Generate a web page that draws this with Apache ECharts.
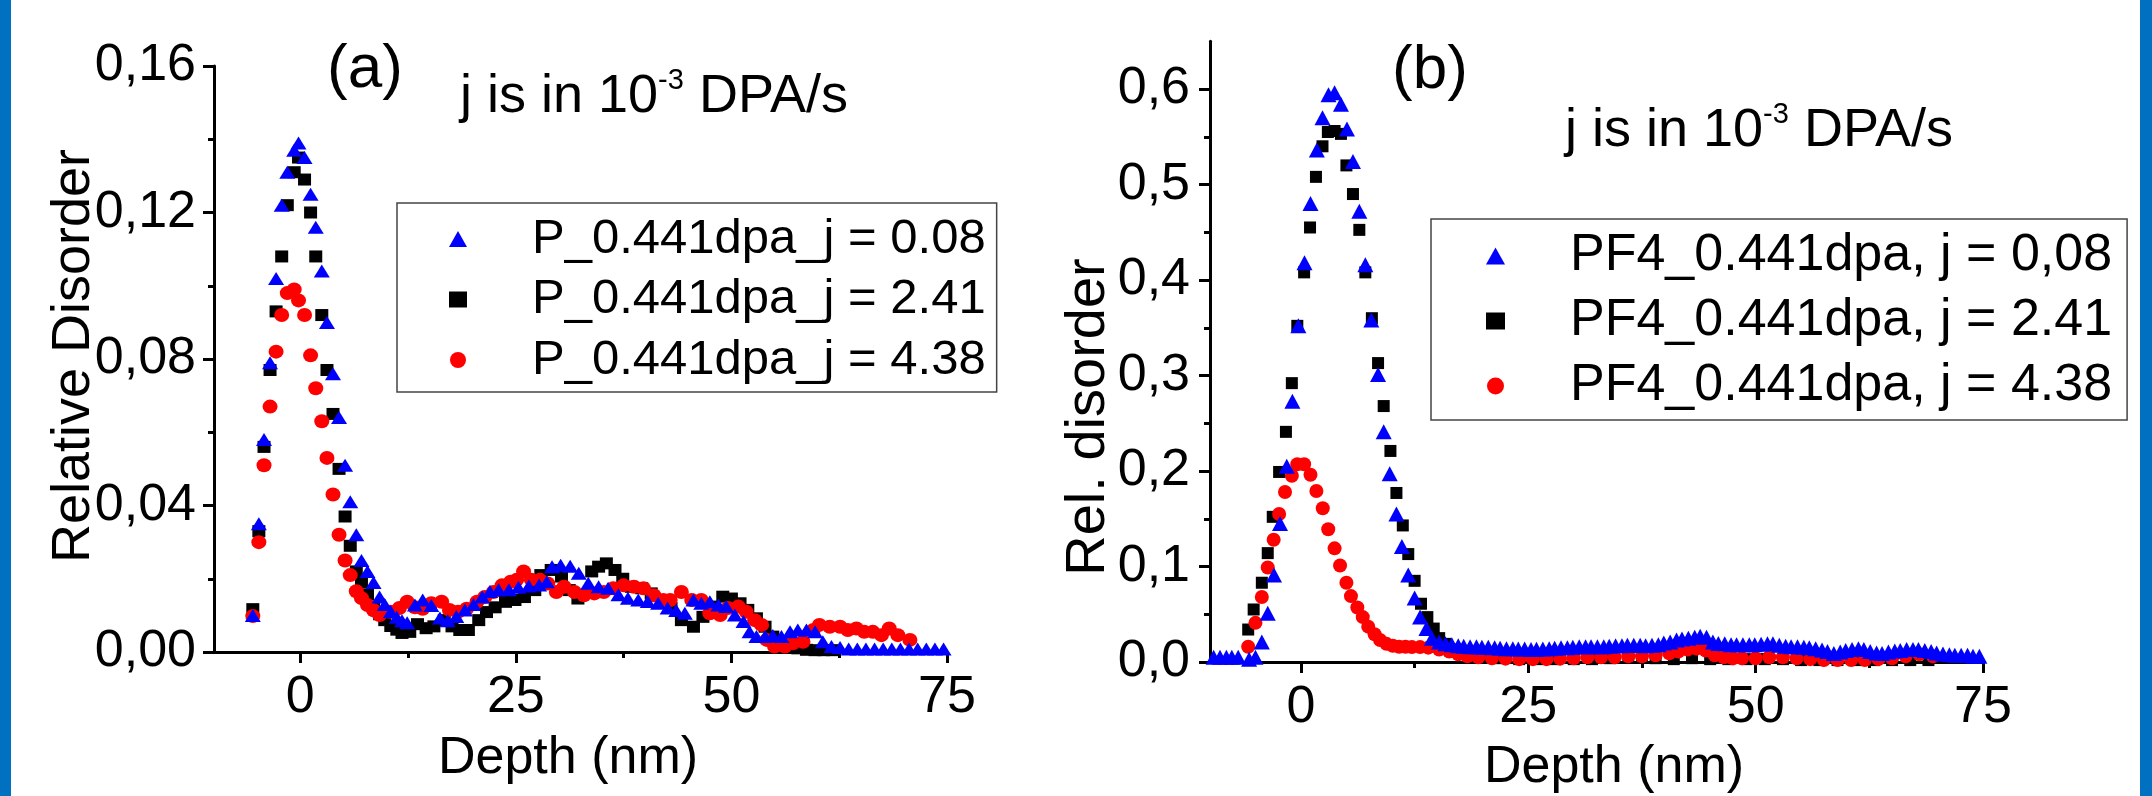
<!DOCTYPE html>
<html><head><meta charset="utf-8">
<script src="https://cdn.jsdelivr.net/npm/echarts@6/dist/echarts.min.js"></script>
<style>html,body{margin:0;padding:0;background:#fff}#c{width:2152px;height:796px}</style>
</head><body><div id="c"></div>
<script>
// ---------- Panel (a) : Relative Disorder vs Depth ----------
const aNames = ['P_0.441dpa_j = 0.08', 'P_0.441dpa_j = 2.41', 'P_0.441dpa_j = 4.38'];
const aJ008 = [[-5.5,0.010],[-4.8,0.035],[-4.2,0.058],[-3.5,0.079],[-2.8,0.102],[-2.15,0.122],[-1.5,0.131],[-0.7,0.137],[-0.2,0.139],[0.5,0.135],[1.2,0.125],[1.8,0.116],[2.5,0.104],[3.1,0.090],[3.8,0.076],[4.5,0.064],[5.2,0.051],[5.8,0.041],[6.5,0.032],[7.1,0.025],[7.8,0.022],[8.5,0.019],[9.2,0.015],[9.8,0.013],[10.5,0.011],[11.2,0.0095],[11.8,0.0085],[12.4,0.008],[13.3,0.0128],[14.2,0.0142],[15.2,0.0127],[16.2,0.0093],[17.1,0.0085],[18.1,0.0097],[19.1,0.0115],[20.1,0.013],[21.1,0.015],[22.0,0.0165],[23.0,0.017],[24.2,0.017],[25.3,0.0177],[26.5,0.018],[27.7,0.0183],[28.6,0.0192],[29.2,0.0233],[30.2,0.0237],[31.3,0.0234],[32.3,0.0215],[33.4,0.0188],[34.6,0.0178],[35.7,0.0174],[36.9,0.0156],[38.0,0.0147],[39.2,0.0142],[40.3,0.0138],[41.5,0.0133],[42.6,0.012],[43.6,0.0113],[44.6,0.0106],[45.6,0.0142],[46.5,0.0133],[47.5,0.0137],[48.5,0.0128],[49.4,0.0124],[50.4,0.0101],[51.4,0.0083],[52.1,0.0055],[52.9,0.0042],[53.9,0.0042],[54.8,0.0045],[55.8,0.0042],[56.8,0.0055],[57.7,0.006],[58.7,0.006],[59.7,0.0055],[60.6,0.0028],[61.6,0.0015],[62.6,0.0012],[63.6,0.0008],[64.6,0.0008],[65.6,0.0008],[66.6,0.0008],[67.6,0.0008],[68.6,0.0008],[69.6,0.0008],[70.6,0.0008],[71.6,0.0008],[72.6,0.0008],[73.6,0.0008],[74.6,0.0008]];
const aJ241 = [[-5.5,0.0117],[-4.8,0.033],[-4.2,0.056],[-3.5,0.077],[-2.8,0.093],[-2.15,0.108],[-1.5,0.122],[-0.7,0.131],[-0.2,0.135],[0.5,0.129],[1.2,0.120],[1.8,0.108],[2.5,0.092],[3.1,0.077],[3.8,0.065],[4.5,0.050],[5.2,0.037],[5.8,0.029],[6.5,0.022],[7.1,0.019],[7.8,0.0157],[8.5,0.0123],[9.2,0.0103],[9.8,0.0087],[10.5,0.0071],[11.2,0.0061],[11.8,0.0052],[12.7,0.0055],[13.6,0.0076],[14.6,0.0065],[15.5,0.007],[16.7,0.0087],[17.6,0.007],[18.5,0.006],[19.5,0.006],[20.7,0.0087],[21.6,0.0109],[22.6,0.0122],[23.8,0.0137],[24.9,0.0142],[26.0,0.015],[27.2,0.0169],[27.9,0.021],[29.1,0.0224],[30.3,0.0206],[31.2,0.0169],[32.2,0.0146],[33.8,0.022],[34.6,0.0233],[35.5,0.0242],[36.5,0.0224],[37.4,0.020],[38.4,0.0178],[39.6,0.0174],[40.7,0.016],[41.9,0.0142],[43.0,0.012],[44.2,0.0087],[45.6,0.0069],[46.7,0.0096],[47.9,0.0124],[49.0,0.0151],[50.0,0.0146],[51.0,0.0133],[51.9,0.0115],[52.9,0.0092],[53.9,0.0069],[54.8,0.0042],[55.8,0.0024],[56.8,0.0015],[57.7,0.001],[58.7,0.0006],[59.7,0.0005],[60.7,0.0005],[61.7,0.0005]];
const aJ438 = [[-5.5,0.0098],[-4.8,0.030],[-4.2,0.051],[-3.5,0.067],[-2.8,0.082],[-2.15,0.092],[-1.5,0.098],[-0.7,0.099],[-0.2,0.096],[0.5,0.092],[1.2,0.081],[1.8,0.072],[2.5,0.063],[3.1,0.053],[3.8,0.043],[4.5,0.032],[5.2,0.025],[5.8,0.021],[6.5,0.0166],[7.1,0.0147],[7.8,0.0128],[8.5,0.0114],[9.2,0.0101],[10.4,0.011],[11.5,0.012],[12.4,0.0137],[13.3,0.0122],[14.2,0.0118],[15.2,0.0133],[16.4,0.0137],[17.3,0.0115],[18.3,0.011],[19.3,0.0118],[20.5,0.0137],[21.4,0.015],[22.4,0.0164],[23.4,0.0182],[24.4,0.0192],[25.1,0.0197],[25.9,0.022],[26.8,0.0197],[27.8,0.0197],[28.7,0.0187],[29.7,0.0164],[30.6,0.0178],[31.8,0.0164],[32.9,0.0155],[34.1,0.016],[35.2,0.0164],[36.3,0.0174],[37.5,0.0182],[38.7,0.0178],[39.8,0.0174],[41.0,0.0155],[42.1,0.0142],[42.9,0.0142],[44.2,0.0164],[45.4,0.0142],[46.5,0.0142],[47.5,0.0106],[48.7,0.0101],[49.6,0.012],[50.8,0.0124],[51.7,0.011],[52.7,0.0087],[53.5,0.0074],[54.1,0.0033],[55.0,0.0015],[56.2,0.0015],[57.1,0.0024],[58.3,0.0028],[59.5,0.006],[60.2,0.0074],[61.4,0.0069],[62.6,0.0069],[63.5,0.006],[64.5,0.0064],[65.4,0.0055],[66.4,0.0055],[67.4,0.0046],[68.3,0.0064],[69.3,0.0046],[70.7,0.0033]];

// ---------- Panel (b) : Rel. disorder vs Depth ----------
const bNames = ['PF4_0.441dpa, j = 0,08', 'PF4_0.441dpa, j = 2.41', 'PF4_0.441dpa, j = 4.38'];
const bJ008 = [[-9.6,0.005],[-8.9,0.005],[-8.2,0.005],[-7.6,0.005],[-6.9,0.005],[-5.7,0.003],[-5.0,0.005],[-4.3,0.021],[-3.65,0.051],[-2.96,0.091],[-2.3,0.145],[-1.56,0.205],[-0.94,0.273],[-0.28,0.352],[0.39,0.418],[1.05,0.48],[1.75,0.536],[2.37,0.57],[3.03,0.594],[3.7,0.596],[4.4,0.584],[5.06,0.558],[5.72,0.524],[6.42,0.472],[7.08,0.416],[7.74,0.358],[8.48,0.301],[9.1,0.241],[9.76,0.197],[10.5,0.155],[11.1,0.121],[11.8,0.091],[12.5,0.067],[13.1,0.047],[13.8,0.035],[14.4,0.025],
  [15.2,0.021],[15.9,0.019],[16.6,0.018],[17.3,0.017],[17.9,0.0165],[18.6,0.016],[19.3,0.016],[19.9,0.0155],[20.6,0.0155],[21.3,0.015],[21.9,0.0145],[22.6,0.014],[23.3,0.014],[23.9,0.0135],[24.6,0.0135],[25.3,0.013],[25.9,0.0133],[26.6,0.0137],[27.3,0.014],[27.9,0.0145],[28.6,0.015],[29.3,0.015],[29.9,0.0155],[30.6,0.016],[31.3,0.016],[31.9,0.016],[32.6,0.016],[33.3,0.016],[33.9,0.0165],[34.6,0.017],[35.3,0.017],[35.9,0.0175],[36.6,0.0175],[37.3,0.0175],[37.9,0.017],[38.6,0.0175],[39.3,0.018],[39.9,0.020],[40.6,0.021],[41.3,0.023],[41.9,0.024],[42.6,0.025],[43.3,0.026],[43.9,0.027],[44.6,0.026],[45.3,0.021],[45.9,0.0195],[46.6,0.019],[47.3,0.018],[47.9,0.018],[48.6,0.018],[49.3,0.018],[49.9,0.018],[50.6,0.0185],[51.3,0.019],[51.9,0.019],[52.6,0.0175],[53.3,0.0165],[53.9,0.016],[54.6,0.016],[55.3,0.0155],[55.9,0.015],[56.6,0.014],[57.3,0.0125],[57.9,0.011],[58.6,0.009],[59.3,0.0105],[59.9,0.012],[60.6,0.013],[61.3,0.014],[61.9,0.013],[62.6,0.011],[63.3,0.0095],[63.9,0.009],[64.6,0.0105],[65.3,0.0115],[65.9,0.012],[66.6,0.013],[67.3,0.013],[67.9,0.013],[68.6,0.012],[69.3,0.011],[69.9,0.0095],[70.6,0.0085],[71.3,0.0075],[71.9,0.007],[72.6,0.007],[73.3,0.007],[73.9,0.006],[74.6,0.006]];
const bJ241 = [[-5.8,0.034],[-5.2,0.055],[-4.3,0.083],[-3.65,0.114],[-3.1,0.152],[-2.4,0.199],[-1.65,0.241],[-1.0,0.292],[-0.4,0.352],[0.35,0.408],[1.0,0.455],[1.65,0.508],[2.37,0.54],[2.96,0.555],[3.7,0.556],[4.4,0.553],[5.0,0.52],[5.72,0.49],[6.42,0.4525],[7.08,0.408],[7.8,0.36],[8.48,0.313],[9.1,0.268],[9.84,0.221],[10.5,0.177],[11.2,0.143],[11.8,0.113],[12.5,0.085],[13.2,0.061],[13.9,0.047],[14.6,0.035],[15.2,0.025],[15.9,0.019],[16.7,0.013],[17.5,0.009],[18.5,0.007],[20.0,0.005],[22.0,0.004],[24.0,0.003],[26.0,0.003],[28.0,0.003],[30.0,0.003],[32.0,0.003],[34.0,0.004],[36.0,0.005],[37.5,0.006],[39.0,0.004],[41.0,0.003],[43.0,0.004],[45.0,0.003],[47.0,0.003],[49.0,0.003],[51.0,0.003],[53.0,0.003],[55.0,0.002],[57.0,0.002],[59.0,0.002],[61.0,0.002],[63.0,0.002],[65.0,0.002],[67.0,0.002],[69.0,0.002]];
const bJ438 = [[-5.8,0.016],[-5.0,0.041],[-4.3,0.068],[-3.65,0.099],[-3.0,0.128],[-2.4,0.155],[-1.75,0.178],[-1.0,0.195],[-0.4,0.207],[0.35,0.207],[1.05,0.196],[1.7,0.179],[2.4,0.161],[3.0,0.139],[3.7,0.119],[4.3,0.101],[5.0,0.083],[5.5,0.069],[6.2,0.057],[6.8,0.047],[7.4,0.037],[8.1,0.029],[8.7,0.023],[9.4,0.019],[10.1,0.017],[10.8,0.016],[11.5,0.016],[12.2,0.0156],[13.1,0.0156],[14.0,0.015],[15.2,0.013],[16.3,0.011],[17.3,0.008],[18.3,0.006],[19.5,0.005],[21.0,0.004],[22.5,0.0035],[24.0,0.003],[25.5,0.003],[27.0,0.003],[28.5,0.0035],[30.0,0.004],[31.5,0.005],[33.0,0.005],[34.5,0.005],[36.0,0.006],[37.5,0.006],[39.0,0.007],[40.5,0.009],[41.5,0.011],[42.5,0.013],[43.5,0.014],[44.5,0.012],[45.5,0.007],[46.5,0.005],[47.5,0.004],[48.5,0.004],[50.0,0.004],[51.5,0.005],[53.0,0.005],[54.5,0.004],[56.0,0.003],[57.5,0.002],[59.0,0.002],[60.5,0.002],[62.0,0.002],[63.5,0.003],[65.0,0.004],[66.5,0.006],[68.0,0.008],[69.5,0.006]];

// ---------- Tick labels ----------
const xMajor = [0, 25, 50, 75];
const xMinor = [12.5, 37.5, 62.5];
const aYMajor = [0, 0.04, 0.08, 0.12, 0.16];
const bYMajor = [0, 0.1, 0.2, 0.3, 0.4, 0.5, 0.6];
const bYMinor = [0.05, 0.15, 0.25, 0.35, 0.45, 0.55];

const FONT = '"Liberation Sans", Arial, Helvetica, sans-serif';
const BLUE = '#0000FF', BLACK = '#000000', RED = '#FF0000';
const TICKFS = 52;

function xAxes(gi) {
  return [
    { gridIndex: gi, type: 'value', min: -10, max: 75, position: 'bottom',
      axisLine: { show: true, onZero: false, lineStyle: { color: '#000', width: 3 } },
      axisTick: { show: true, customValues: xMajor, length: 11, lineStyle: { color: '#000', width: 3 } },
      axisLabel: { show: true, customValues: xMajor, margin: 20, fontSize: TICKFS, color: '#000', fontFamily: FONT },
      splitLine: { show: false } },
    { gridIndex: gi, type: 'value', min: -10, max: 75, position: 'bottom',
      axisLine: { show: false, onZero: false },
      axisTick: { show: true, customValues: xMinor, length: 6, lineStyle: { color: '#000', width: 3 } },
      axisLabel: { show: false }, splitLine: { show: false } }
  ];
}

const option = {
  animation: false,
  backgroundColor: '#ffffff',
  grid: [
    { left: 214, top: 66, width: 733, height: 586, containLabel: false },
    { left: 1210, top: 41.25, width: 773, height: 620.75, containLabel: false }
  ],
  xAxis: [...xAxes(0), ...xAxes(1)],
  yAxis: [
    { gridIndex: 0, type: 'value', min: 0, max: 0.16, interval: 0.04, position: 'left',
      axisLine: { show: true, onZero: false, lineStyle: { color: '#000', width: 3 } },
      axisTick: { show: true, length: 11, lineStyle: { color: '#000', width: 3 } },
      minorTick: { show: true, splitNumber: 2, length: 6, lineStyle: { color: '#000', width: 3 } },
      axisLabel: { margin: 18, fontSize: TICKFS, color: '#000', fontFamily: FONT,
        formatter: v => v.toFixed(2).replace('.', ',') },
      splitLine: { show: false }, minorSplitLine: { show: false } },
    { gridIndex: 1, type: 'value', min: 0, max: 0.65, position: 'left',
      axisLine: { show: true, onZero: false, lineStyle: { color: '#000', width: 3 } },
      axisTick: { show: true, customValues: bYMajor, length: 11, lineStyle: { color: '#000', width: 3 } },
      axisLabel: { customValues: bYMajor, margin: 20, fontSize: TICKFS, color: '#000', fontFamily: FONT,
        formatter: v => v.toFixed(1).replace('.', ',') },
      splitLine: { show: false } },
    { gridIndex: 1, type: 'value', min: 0, max: 0.65, position: 'left',
      axisLine: { show: false, onZero: false },
      axisTick: { show: true, customValues: bYMinor, length: 6, lineStyle: { color: '#000', width: 3 } },
      axisLabel: { show: false }, splitLine: { show: false } }
  ],
  legend: [
    { orient: 'vertical', left: 397, top: 203, selectedMode: false,
      data: [{ name: aNames[0], icon: 'triangle' }, { name: aNames[1], icon: 'rect' }, { name: aNames[2], icon: 'circle' }],
      itemWidth: 18, itemHeight: 16, itemGap: 11.5, symbolKeepAspect: true,
      padding: [11.5, 11, 7.5, 52],
      borderColor: '#444', borderWidth: 1.5, backgroundColor: '#fff',
      textStyle: { fontSize: 49, lineHeight: 49, color: '#000', fontFamily: FONT, padding: [0, 0, 0, 60] } },
    { orient: 'vertical', left: 1431, top: 219, selectedMode: false,
      data: [{ name: bNames[0], icon: 'triangle' }, { name: bNames[1], icon: 'rect' }, { name: bNames[2], icon: 'circle' }],
      itemWidth: 19, itemHeight: 17, itemGap: 13, symbolKeepAspect: true,
      padding: [11, 15, 8, 55],
      borderColor: '#444', borderWidth: 1.5, backgroundColor: '#fff',
      textStyle: { fontSize: 52, lineHeight: 52, color: '#000', fontFamily: FONT, padding: [0, 0, 0, 60] } }
  ],
  series: [
    { name: aNames[1], type: 'scatter', xAxisIndex: 0, yAxisIndex: 0, symbol: 'rect', symbolSize: [13, 12], itemStyle: { color: BLACK, opacity: 1 }, data: aJ241, z: 2 },
    { name: aNames[2], type: 'scatter', xAxisIndex: 0, yAxisIndex: 0, symbol: 'circle', symbolSize: [15, 14], itemStyle: { color: RED, opacity: 1 }, data: aJ438, z: 3 },
    { name: aNames[0], type: 'scatter', xAxisIndex: 0, yAxisIndex: 0, symbol: 'triangle', symbolSize: [16, 13], itemStyle: { color: BLUE, opacity: 1 }, data: aJ008, z: 4 },
    { name: bNames[1], type: 'scatter', xAxisIndex: 2, yAxisIndex: 1, symbol: 'rect', symbolSize: [12, 12], itemStyle: { color: BLACK, opacity: 1 }, data: bJ241, z: 2 },
    { name: bNames[2], type: 'scatter', xAxisIndex: 2, yAxisIndex: 1, symbol: 'circle', symbolSize: [14, 14], itemStyle: { color: RED, opacity: 1 }, data: bJ438, z: 3 },
    { name: bNames[0], type: 'scatter', xAxisIndex: 2, yAxisIndex: 1, symbol: 'triangle', symbolSize: [16, 15], itemStyle: { color: BLUE, opacity: 1 }, data: bJ008, z: 4 }
  ],
  graphic: [
    { type: 'rect', left: 0, top: 0, shape: { width: 11, height: 796 }, style: { fill: '#0070C0' }, silent: true },
    { type: 'rect', left: 2140, top: 0, shape: { width: 12, height: 796 }, style: { fill: '#0070C0' }, silent: true },
    { type: 'text', x: 365, y: 70, style: { text: '(a)', font: '62px ' + FONT, fill: '#000', align: 'center', verticalAlign: 'middle' } },
    { type: 'text', x: 1430, y: 71, style: { text: '(b)', font: '62px ' + FONT, fill: '#000', align: 'center', verticalAlign: 'middle' } },
    { type: 'text', x: 460, y: 97, style: { text: 'j is in 10{s|-3} DPA/s', font: '54px ' + FONT, lineHeight: 62, fill: '#000', align: 'left', verticalAlign: 'middle',
        rich: { s: { fontSize: 29, fontFamily: FONT, lineHeight: 29, verticalAlign: 'top', fill: '#000' } } } },
    { type: 'text', x: 1565, y: 131, style: { text: 'j is in 10{s|-3} DPA/s', font: '54px ' + FONT, lineHeight: 62, fill: '#000', align: 'left', verticalAlign: 'middle',
        rich: { s: { fontSize: 29, fontFamily: FONT, lineHeight: 29, verticalAlign: 'top', fill: '#000' } } } },
    { type: 'text', x: 74, y: 356, rotation: Math.PI / 2, style: { text: 'Relative Disorder', font: '54px ' + FONT, fill: '#000', align: 'center', verticalAlign: 'middle' } },
    { type: 'text', x: 568, y: 759, style: { text: 'Depth (nm)', font: '52px ' + FONT, fill: '#000', align: 'center', verticalAlign: 'middle' } },
    { type: 'text', x: 1089, y: 417, rotation: Math.PI / 2, style: { text: 'Rel. disorder', font: '56px ' + FONT, fill: '#000', align: 'center', verticalAlign: 'middle' } },
    { type: 'text', x: 1614, y: 768, style: { text: 'Depth (nm)', font: '52px ' + FONT, fill: '#000', align: 'center', verticalAlign: 'middle' } }
  ]
};

const chart = echarts.init(document.getElementById('c'), null, { renderer: 'canvas', width: 2152, height: 796 });
chart.setOption(option);
</script>
</body></html>
